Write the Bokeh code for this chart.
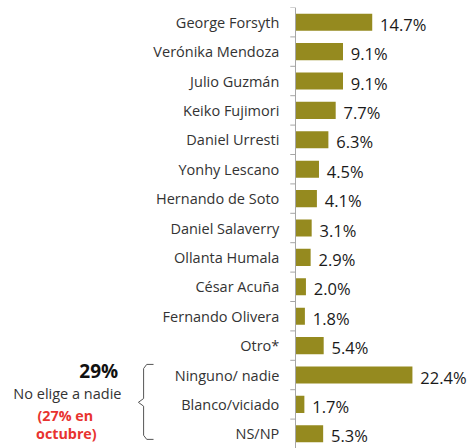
from bokeh.plotting import figure
from bokeh.models import Range1d, ColumnDataSource
from bokeh.core.properties import value
from bokeh.embed import file_html
from bokeh.resources import INLINE

categories = ["George Forsyth", "Verónika Mendoza", "Julio Guzmán", "Keiko Fujimori",
              "Daniel Urresti", "Yonhy Lescano", "Hernando de Soto", "Daniel Salaverry",
              "Ollanta Humala", "César Acuña", "Fernando Olivera", "Otro*",
              "Ninguno/ nadie", "Blanco/viciado", "NS/NP"]
values = [14.7, 9.1, 9.1, 7.7, 6.3, 4.5, 4.1, 3.1, 2.9, 2.0, 1.8, 5.4, 22.4, 1.7, 5.3]
value_labels = ["14.7%", "9.1%", "9.1%", "7.7%", "6.3%", "4.5%", "4.1%", "3.1%",
                "2.9%", "2.0%", "1.8%", "5.4%", "22.4%", "1.7%", "5.3%"]
group_total = "29%"
group_text = "No elige a nadie"
group_prev = ["(27% en", "octubre)"]

FONT = "Open Sans"
BAR = "#958A1F"
W, H = 469, 448
TOP = 7
S = 5.22  # px per percentage point
x0 = -295 / S
n = len(categories)
ypos = list(range(n))

p = figure(width=W, height=H, output_backend="svg", toolbar_location=None,
           x_range=Range1d(x0, x0 + W / S), y_range=Range1d(n - 0.5, -0.5),
           min_border=0, min_border_top=TOP, outline_line_color=None)
p.xaxis.visible = False
p.yaxis.visible = False
p.xgrid.visible = False
p.ygrid.visible = False
p.background_fill_color = "white"
p.border_fill_color = "white"

src = ColumnDataSource(dict(y=ypos, v=values, cat=categories, lab=value_labels,
                            lx=[v + 1.5 for v in values]))
p.hbar(y="y", left=0, right="v", height=0.58, source=src,
       fill_color=BAR, line_color=None)

# axis line and boundary ticks
bounds = [i - 0.5 for i in range(n + 1)]
p.segment(x0=[0], y0=[-0.5], x1=[0], y1=[n - 0.5], line_color="#a6a6a6", line_width=1)
p.segment(x0=[-1.0] * len(bounds), y0=bounds, x1=[0] * len(bounds), y1=bounds,
          line_color="#a6a6a6", line_width=1)

# category labels
p.text(x=-3.1, y="y", text="cat", source=src, text_align="right",
       text_baseline="middle", text_font=value(FONT), text_font_size="14.5px",
       text_color="#333333")
# value labels
p.text(x="lx", y="y", text="lab", source=src, text_align="left",
       text_baseline="middle", text_font=value(FONT), text_font_size="16.5px",
       text_color="#1a1a1a", y_offset=2)

# left annotation
p.text(x=[-37.7], y=[11.85], text=[group_total], text_align="center",
       text_baseline="middle", text_font=value(FONT), text_font_size="19px",
       text_font_style="bold", text_color="#111111")
p.text(x=[-43.7], y=[12.63], text=[group_text], text_align="center",
       text_baseline="middle", text_font=value(FONT), text_font_size="14.5px",
       text_color="#333333")
p.text(x=[-44.1, -43.9], y=[13.38, 13.99], text=group_prev, text_align="center",
       text_baseline="middle", text_font=value(FONT), text_font_size="14.3px",
       text_font_style="bold", text_color="#E8332F")

# brace
bx = -29.1
bxs = [bx + 1.9, bx + 0.6, bx, bx, bx - 1.0, bx, bx, bx + 0.6, bx + 1.9]
bys = [11.64, 11.64, 11.78, 12.8, 12.93, 13.06, 14.05, 14.19, 14.19]
p.line(x=bxs, y=bys, line_color="#555555", line_width=1)

open("out.html", "w").write(file_html(p, INLINE))
